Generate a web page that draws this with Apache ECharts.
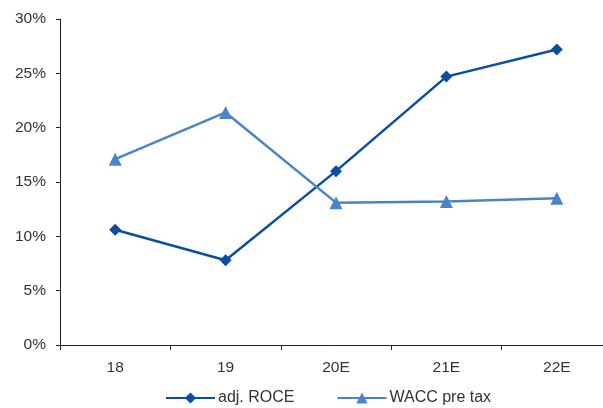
<!DOCTYPE html>
<html>
<head>
<meta charset="utf-8">
<script src="https://cdn.jsdelivr.net/npm/echarts@6/dist/echarts.min.js"></script>
<style>html,body{margin:0;padding:0;background:#fff}#c{width:603px;height:408px}</style>
</head>
<body>
<div id="c"></div>
<script>
const categories = ['18', '19', '20E', '21E', '22E'];
const roce = [10.6, 7.8, 16.0, 24.7, 27.2];
const wacc = [17.1, 21.4, 13.1, 13.2, 13.5];
const yTicks = [0, 5, 10, 15, 20, 25, 30];

const chart = echarts.init(document.getElementById('c'));
const font = 'Liberation Sans, Arial, sans-serif';
chart.setOption({
  animation: false,
  grid: { left: 60, width: 552, top: 19, height: 326, containLabel: false, outerBoundsMode: 'none' },
  xAxis: {
    type: 'category', data: categories, boundaryGap: true,
    axisLine: { lineStyle: { color: '#222', width: 1 } },
    axisTick: { show: true, length: 5, lineStyle: { color: '#222' } },
    axisLabel: { color: '#333', fontFamily: font, fontSize: 15.5, margin: 15 }
  },
  yAxis: {
    type: 'value', min: 0, max: 30, interval: 5,
    splitLine: { show: false },
    axisLine: { show: true, lineStyle: { color: '#222', width: 1 } },
    axisTick: { show: true, length: 4, lineStyle: { color: '#222' } },
    axisLabel: { color: '#333', fontFamily: font, fontSize: 15.5, margin: 14,
      formatter: v => yTicks.includes(v) ? v + '%' : '' }
  },
  legend: {
    top: 390, left: 165, padding: 0, itemWidth: 49, itemHeight: 14, itemGap: 42,
    textStyle: { color: '#333', fontFamily: font, fontSize: 16, padding: [0, 0, 0, -2] },
    data: ['adj. ROCE', 'WACC pre tax']
  },
  series: [
    { name: 'adj. ROCE', type: 'line', data: roce, symbol: 'diamond', symbolSize: 12,
      lineStyle: { color: '#0a4da2', width: 2.5 }, itemStyle: { color: '#0a4da2' } },
    { name: 'WACC pre tax', type: 'line', data: wacc, symbol: 'triangle', symbolSize: 13,
      lineStyle: { color: '#4a84c8', width: 2.5 }, itemStyle: { color: '#4a84c8' } }
  ]
});
</script>
</body>
</html>
